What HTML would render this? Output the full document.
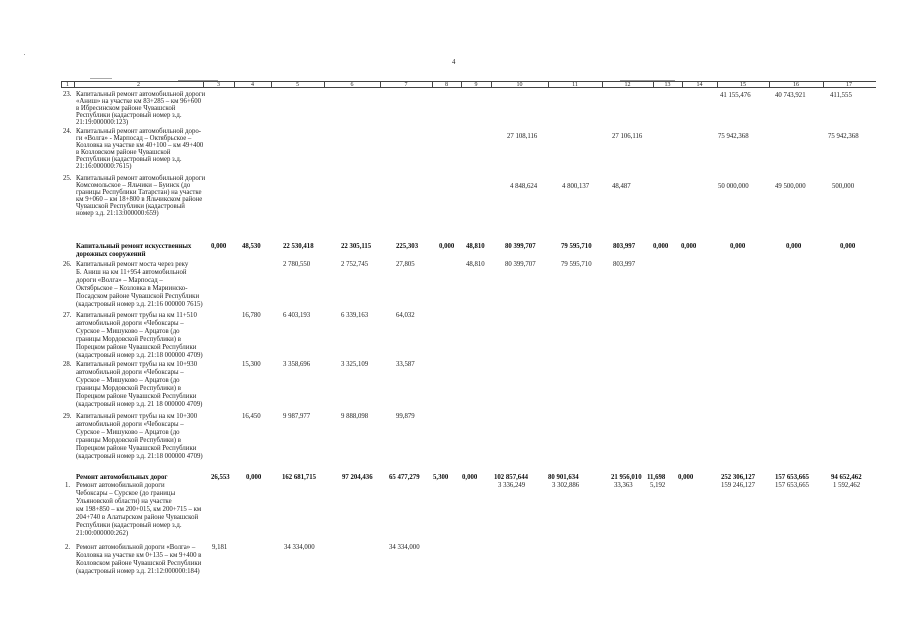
<!DOCTYPE html>
<html><head><meta charset="utf-8">
<style>
html,body{margin:0;padding:0;background:#fff;}
#p{position:relative;width:905px;height:640px;overflow:hidden;background:#fff;}
.t{position:absolute;font-family:"Liberation Serif","DejaVu Serif",serif;font-size:6.8px;line-height:7px;white-space:nowrap;color:#222;}
.b{font-weight:bold;color:#111;}
.h{position:absolute;background:#444;}
.hl{position:absolute;font-family:"Liberation Serif",serif;font-size:6px;line-height:6px;color:#222;text-align:center;}
</style></head><body><div id="p">

<div class="t" style="left:452px;top:59px;">4</div>
<div class="h" style="left:24px;top:54px;width:1px;height:1px;background:#999"></div>

<!-- header -->
<div class="h" style="left:61px;top:81px;width:815px;height:1px;"></div>
<div class="h" style="left:61px;top:87px;width:815px;height:1px;"></div>
<div class="h" style="left:90px;top:78px;width:22px;height:1px;background:#aaa"></div>
<div class="h" style="left:178px;top:80px;width:40px;height:1px;background:#999"></div>
<div class="h" style="left:620px;top:80px;width:55px;height:1px;background:#999"></div>
<div class="h" style="left:61px;top:81px;width:1px;height:7px;"></div>
<div class="h" style="left:74px;top:81px;width:1px;height:7px;"></div>
<div class="h" style="left:203px;top:81px;width:1px;height:7px;"></div>
<div class="h" style="left:234px;top:81px;width:1px;height:7px;"></div>
<div class="h" style="left:271px;top:81px;width:1px;height:7px;"></div>
<div class="h" style="left:324px;top:81px;width:1px;height:7px;"></div>
<div class="h" style="left:380px;top:81px;width:1px;height:7px;"></div>
<div class="h" style="left:432px;top:81px;width:1px;height:7px;"></div>
<div class="h" style="left:461px;top:81px;width:1px;height:7px;"></div>
<div class="h" style="left:491px;top:81px;width:1px;height:7px;"></div>
<div class="h" style="left:548px;top:81px;width:1px;height:7px;"></div>
<div class="h" style="left:602px;top:81px;width:1px;height:7px;"></div>
<div class="h" style="left:653px;top:81px;width:1px;height:7px;"></div>
<div class="h" style="left:682px;top:81px;width:1px;height:7px;"></div>
<div class="h" style="left:717px;top:81px;width:1px;height:7px;"></div>
<div class="h" style="left:769px;top:81px;width:1px;height:7px;"></div>
<div class="h" style="left:823px;top:81px;width:1px;height:7px;"></div>

<div class="hl" style="left:61px;top:82px;width:13px;">1</div>
<div class="hl" style="left:74px;top:82px;width:129px;">2</div>
<div class="hl" style="left:203px;top:82px;width:31px;">3</div>
<div class="hl" style="left:234px;top:82px;width:37px;">4</div>
<div class="hl" style="left:271px;top:82px;width:53px;">5</div>
<div class="hl" style="left:324px;top:82px;width:56px;">6</div>
<div class="hl" style="left:380px;top:82px;width:52px;">7</div>
<div class="hl" style="left:432px;top:82px;width:29px;">8</div>
<div class="hl" style="left:461px;top:82px;width:30px;">9</div>
<div class="hl" style="left:491px;top:82px;width:57px;">10</div>
<div class="hl" style="left:548px;top:82px;width:54px;">11</div>
<div class="hl" style="left:602px;top:82px;width:51px;">12</div>
<div class="hl" style="left:653px;top:82px;width:29px;">13</div>
<div class="hl" style="left:682px;top:82px;width:35px;">14</div>
<div class="hl" style="left:717px;top:82px;width:52px;">15</div>
<div class="hl" style="left:769px;top:82px;width:54px;">16</div>
<div class="hl" style="left:823px;top:82px;width:52px;">17</div>

<!-- row 23 -->
<div class="t" style="left:63px;top:91px;">23.</div>
<div class="t" style="left:76px;top:91px;">Капитальный ремонт автомобильной дороги</div>
<div class="t" style="left:76px;top:98px;">«Аниш» на участке км 83+285 – км 96+600</div>
<div class="t" style="left:76px;top:105px;">в Ибресинском районе Чувашской</div>
<div class="t" style="left:76px;top:112px;">Республики (кадастровый номер з.д.</div>
<div class="t" style="left:76px;top:119px;">21:19:000000:123)</div>
<div class="t" style="left:720px;top:92px;">41 155,476</div>
<div class="t" style="left:775px;top:92px;">40 743,921</div>
<div class="t" style="left:830px;top:92px;">411,555</div>

<!-- row 24 -->
<div class="t" style="left:63px;top:128px;">24.</div>
<div class="t" style="left:76px;top:128px;">Капитальный ремонт автомобильной доро-</div>
<div class="t" style="left:76px;top:135px;">ги «Волга» - Марпосад – Октябрьское –</div>
<div class="t" style="left:76px;top:142px;">Козловка на участке км 40+100 – км 49+400</div>
<div class="t" style="left:76px;top:149px;">в Козловском районе Чувашской</div>
<div class="t" style="left:76px;top:156px;">Республики (кадастровый номер з.д.</div>
<div class="t" style="left:76px;top:163px;">21:16:000000:7615)</div>
<div class="t" style="left:507px;top:133px;">27 108,116</div>
<div class="t" style="left:612px;top:133px;">27 106,116</div>
<div class="t" style="left:718px;top:133px;">75 942,368</div>
<div class="t" style="left:828px;top:133px;">75 942,368</div>

<!-- row 25 -->
<div class="t" style="left:63px;top:175px;">25.</div>
<div class="t" style="left:76px;top:175px;">Капитальный ремонт автомобильной дороги</div>
<div class="t" style="left:76px;top:182px;">Комсомольское – Яльчики – Буинск (до</div>
<div class="t" style="left:76px;top:189px;">границы Республики Татарстан) на участке</div>
<div class="t" style="left:76px;top:196px;">км 9+060 – км 18+800 в Яльчикском районе</div>
<div class="t" style="left:76px;top:203px;">Чувашской Республики (кадастровый</div>
<div class="t" style="left:76px;top:210px;">номер з.д. 21:13:000000:659)</div>
<div class="t" style="left:510px;top:183px;">4 848,624</div>
<div class="t" style="left:562px;top:183px;">4 800,137</div>
<div class="t" style="left:612px;top:183px;">48,487</div>
<div class="t" style="left:718px;top:183px;">50 000,000</div>
<div class="t" style="left:775px;top:183px;">49 500,000</div>
<div class="t" style="left:832px;top:183px;">500,000</div>

<!-- section bold -->
<div class="t b" style="left:76px;top:243px;">Капитальный ремонт искусственных</div>
<div class="t b" style="left:76px;top:251px;">дорожных сооружений</div>
<div class="t b" style="left:211px;top:243px;">0,000</div>
<div class="t b" style="left:242px;top:243px;">48,530</div>
<div class="t b" style="left:283px;top:243px;">22 530,418</div>
<div class="t b" style="left:341px;top:243px;">22 305,115</div>
<div class="t b" style="left:396px;top:243px;">225,303</div>
<div class="t b" style="left:439px;top:243px;">0,000</div>
<div class="t b" style="left:466px;top:243px;">48,810</div>
<div class="t b" style="left:505px;top:243px;">80 399,707</div>
<div class="t b" style="left:561px;top:243px;">79 595,710</div>
<div class="t b" style="left:613px;top:243px;">803,997</div>
<div class="t b" style="left:653px;top:243px;">0,000</div>
<div class="t b" style="left:681px;top:243px;">0,000</div>
<div class="t b" style="left:730px;top:243px;">0,000</div>
<div class="t b" style="left:786px;top:243px;">0,000</div>
<div class="t b" style="left:840px;top:243px;">0,000</div>

<!-- row 26 -->
<div class="t" style="left:63px;top:261px;">26.</div>
<div class="t" style="left:76px;top:261px;">Капитальный ремонт моста через реку</div>
<div class="t" style="left:76px;top:269px;">Б. Аниш на км 11+954 автомобильной</div>
<div class="t" style="left:76px;top:277px;">дороги «Волга» – Марпосад –</div>
<div class="t" style="left:76px;top:285px;">Октябрьское – Козловка в Мариинско-</div>
<div class="t" style="left:76px;top:293px;">Посадском районе Чувашской Республики</div>
<div class="t" style="left:76px;top:301px;">(кадастровый номер з.д. 21:16 000000 7615)</div>
<div class="t" style="left:283px;top:261px;">2 780,550</div>
<div class="t" style="left:341px;top:261px;">2 752,745</div>
<div class="t" style="left:396px;top:261px;">27,805</div>
<div class="t" style="left:466px;top:261px;">48,810</div>
<div class="t" style="left:505px;top:261px;">80 399,707</div>
<div class="t" style="left:561px;top:261px;">79 595,710</div>
<div class="t" style="left:613px;top:261px;">803,997</div>

<!-- row 27 -->
<div class="t" style="left:63px;top:312px;">27.</div>
<div class="t" style="left:76px;top:312px;">Капитальный ремонт трубы на км 11+510</div>
<div class="t" style="left:76px;top:320px;">автомобильной дороги «Чебоксары –</div>
<div class="t" style="left:76px;top:328px;">Сурское – Мишуково – Арцатов (до</div>
<div class="t" style="left:76px;top:336px;">границы Мордовской Республики) в</div>
<div class="t" style="left:76px;top:344px;">Порецком районе Чувашской Республики</div>
<div class="t" style="left:76px;top:352px;">(кадастровый номер з.д. 21:18 000000 4709)</div>
<div class="t" style="left:242px;top:312px;">16,780</div>
<div class="t" style="left:283px;top:312px;">6 403,193</div>
<div class="t" style="left:341px;top:312px;">6 339,163</div>
<div class="t" style="left:396px;top:312px;">64,032</div>

<!-- row 28 -->
<div class="t" style="left:63px;top:361px;">28.</div>
<div class="t" style="left:76px;top:361px;">Капитальный ремонт трубы на км 10+930</div>
<div class="t" style="left:76px;top:369px;">автомобильной дороги «Чебоксары –</div>
<div class="t" style="left:76px;top:377px;">Сурское – Мишуково – Арцатов (до</div>
<div class="t" style="left:76px;top:385px;">границы Мордовской Республики) в</div>
<div class="t" style="left:76px;top:393px;">Порецком районе Чувашской Республики</div>
<div class="t" style="left:76px;top:401px;">(кадастровый номер з.д. 21 18 000000 4709)</div>
<div class="t" style="left:242px;top:361px;">15,300</div>
<div class="t" style="left:283px;top:361px;">3 358,696</div>
<div class="t" style="left:341px;top:361px;">3 325,109</div>
<div class="t" style="left:396px;top:361px;">33,587</div>

<!-- row 29 -->
<div class="t" style="left:63px;top:413px;">29.</div>
<div class="t" style="left:76px;top:413px;">Капитальный ремонт трубы на км 10+300</div>
<div class="t" style="left:76px;top:421px;">автомобильной дороги «Чебоксары –</div>
<div class="t" style="left:76px;top:429px;">Сурское – Мишуково – Арцатов (до</div>
<div class="t" style="left:76px;top:437px;">границы Мордовской Республики) в</div>
<div class="t" style="left:76px;top:445px;">Порецком районе Чувашской Республики</div>
<div class="t" style="left:76px;top:453px;">(кадастровый номер з.д. 21:18 000000 4709)</div>
<div class="t" style="left:242px;top:413px;">16,450</div>
<div class="t" style="left:283px;top:413px;">9 987,977</div>
<div class="t" style="left:341px;top:413px;">9 888,098</div>
<div class="t" style="left:396px;top:413px;">99,879</div>

<!-- repair section -->
<div class="t b" style="left:76px;top:474px;">Ремонт автомобильных дорог</div>
<div class="t b" style="left:211px;top:474px;">26,553</div>
<div class="t b" style="left:246px;top:474px;">0,000</div>
<div class="t b" style="left:282px;top:474px;">162 681,715</div>
<div class="t b" style="left:342px;top:474px;">97 204,436</div>
<div class="t b" style="left:389px;top:474px;">65 477,279</div>
<div class="t b" style="left:433px;top:474px;">5,300</div>
<div class="t b" style="left:462px;top:474px;">0,000</div>
<div class="t b" style="left:494px;top:474px;">102 857,644</div>
<div class="t b" style="left:548px;top:474px;">80 901,634</div>
<div class="t b" style="left:611px;top:474px;">21 956,010</div>
<div class="t b" style="left:647px;top:474px;">11,698</div>
<div class="t b" style="left:678px;top:474px;">0,000</div>
<div class="t b" style="left:721px;top:474px;">252 306,127</div>
<div class="t b" style="left:775px;top:474px;">157 653,665</div>
<div class="t b" style="left:831px;top:474px;">94 652,462</div>

<div class="t" style="left:498px;top:482px;">3 336,249</div>
<div class="t" style="left:552px;top:482px;">3 302,886</div>
<div class="t" style="left:614px;top:482px;">33,363</div>
<div class="t" style="left:650px;top:482px;">5,192</div>
<div class="t" style="left:721px;top:482px;">159 246,127</div>
<div class="t" style="left:775px;top:482px;">157 653,665</div>
<div class="t" style="left:833px;top:482px;">1 592,462</div>

<!-- row 1 -->
<div class="t" style="left:65px;top:482px;">1.</div>
<div class="t" style="left:76px;top:482px;">Ремонт автомобильной дороги</div>
<div class="t" style="left:76px;top:490px;">Чебоксары – Сурское (до границы</div>
<div class="t" style="left:76px;top:498px;">Ульяновской области) на участке</div>
<div class="t" style="left:76px;top:506px;">км 198+850 – км 200+015, км 200+715 – км</div>
<div class="t" style="left:76px;top:514px;">204+740 в Алатырском районе Чувашской</div>
<div class="t" style="left:76px;top:522px;">Республики (кадастровый номер з.д.</div>
<div class="t" style="left:76px;top:530px;">21:00:000000:262)</div>

<!-- row 2 -->
<div class="t" style="left:65px;top:544px;">2.</div>
<div class="t" style="left:76px;top:544px;">Ремонт автомобильной дороги «Волга» –</div>
<div class="t" style="left:76px;top:552px;">Козловка на участке км 0+135 – км 9+400 в</div>
<div class="t" style="left:76px;top:560px;">Козловском районе Чувашской Республики</div>
<div class="t" style="left:76px;top:568px;">(кадастровый номер з.д. 21:12:000000:184)</div>
<div class="t" style="left:212px;top:544px;">9,181</div>
<div class="t" style="left:284px;top:544px;">34 334,000</div>
<div class="t" style="left:389px;top:544px;">34 334,000</div>

</div></body></html>
